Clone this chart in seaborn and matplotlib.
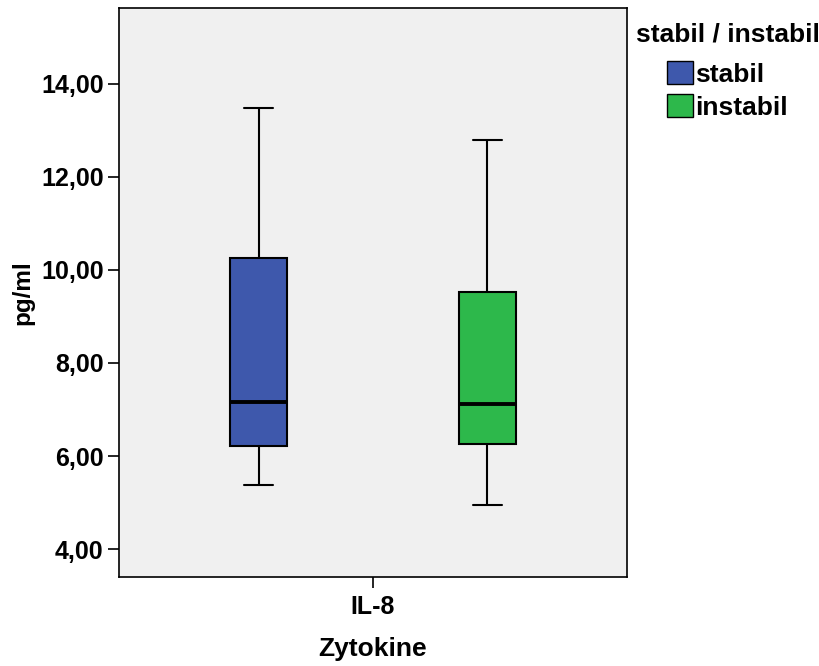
import pandas as pd
import matplotlib.pyplot as plt
import seaborn as sns
from matplotlib.ticker import FuncFormatter
from matplotlib.patches import Patch

# five-number summaries (min, Q1, median, Q3, max)
groups = ['stabil', 'instabil']
stabil_vals = [5.38, 6.22, 7.16, 10.26, 13.48]
instabil_vals = [4.95, 6.26, 7.12, 9.53, 12.80]
category = 'IL-8'
colors = ['#3e58ac', '#2db84b']
y_ticks = [4, 6, 8, 10, 12, 14]

df = pd.DataFrame({
    'Zytokine': [category] * 10,
    'group': ['stabil'] * 5 + ['instabil'] * 5,
    'value': stabil_vals + instabil_vals,
})

sns.set_style('white')
plt.rcParams['font.family'] = ['Liberation Sans', 'DejaVu Sans']
plt.rcParams['font.weight'] = 'bold'
plt.rcParams['text.color'] = 'black'
plt.rcParams['axes.labelcolor'] = 'black'

fig = plt.figure(figsize=(8.19, 6.66), dpi=100)
ax = fig.add_axes([0.1453, 0.1336, 0.6203, 0.8544])
ax.set_facecolor('#f0f0f0')

sns.boxplot(data=df, x='Zytokine', y='value', hue='group', hue_order=groups,
            palette=colors, width=0.9, gap=0.75, whis=(0, 100), ax=ax,
            linecolor='black', linewidth=1.5, saturation=1, legend=False,
            medianprops={'linewidth': 2.8})

ax.set_ylim(3.40, 15.63)
ax.set_xlim(-0.5, 0.5)
ax.set_yticks(y_ticks)
ax.yaxis.set_major_formatter(FuncFormatter(lambda v, p: f'{v:.2f}'.replace('.', ',')))
ax.tick_params(axis='both', direction='out', length=8, width=1.2, colors='black',
               labelsize=18, left=True, bottom=True, pad=3)
ax.tick_params(axis='x', pad=5)
for lab in ax.get_xticklabels() + ax.get_yticklabels():
    lab.set_fontweight('bold')
for s in ax.spines.values():
    s.set_color('black')
    s.set_linewidth(1.2)

ax.set_xlabel('Zytokine', fontsize=19, fontweight='bold', labelpad=13)
ax.set_ylabel('pg/ml', fontsize=17.5, fontweight='bold', labelpad=5)

# legend: title on its own, entries indented below it
fig.text(636 / 819, 1 - 34 / 666, 'stabil / instabil', fontsize=19,
         fontweight='bold', va='center', ha='left')
handles = [Patch(facecolor=c, edgecolor='black', label=g) for g, c in zip(groups, colors)]
leg = fig.legend(handles=handles, loc='upper left',
                 bbox_to_anchor=(667 / 819, 1 - 61 / 666), frameon=False, fontsize=19,
                 borderpad=0, borderaxespad=0,
                 handlelength=0.98, handleheight=0.98, handletextpad=0.1,
                 labelspacing=0.28)

fig.savefig('out.png', dpi=100, facecolor='white')
